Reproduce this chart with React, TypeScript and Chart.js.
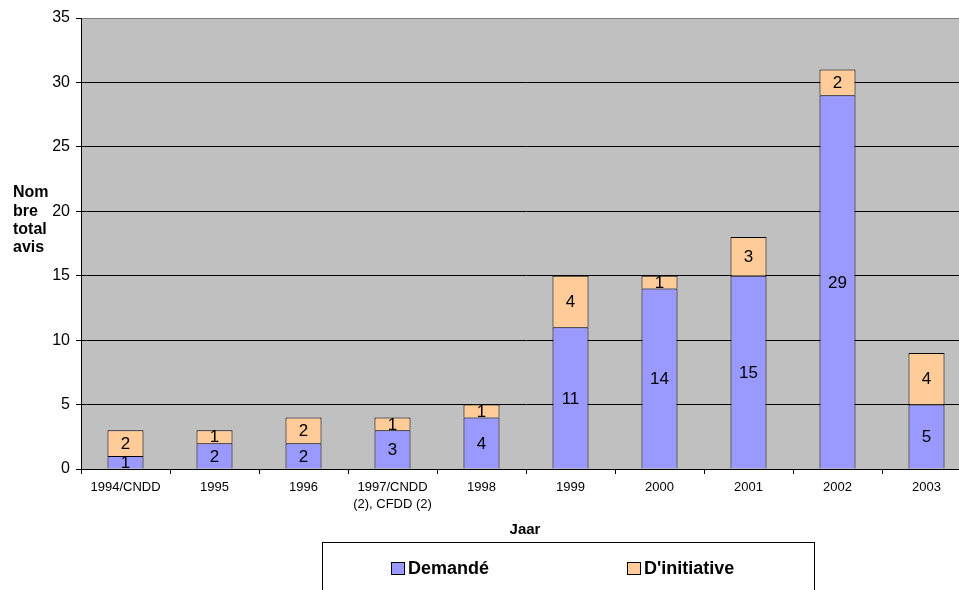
import React, { useEffect, useRef } from "react";
import { Chart, registerables } from "chart.js";

Chart.register(...registerables);

const categories: (string | string[])[] = [
  "1994/CNDD",
  "1995",
  "1996",
  ["1997/CNDD", "(2), CFDD (2)"],
  "1998",
  "1999",
  "2000",
  "2001",
  "2002",
  "2003",
];
const demande = [1, 2, 2, 3, 4, 11, 14, 15, 29, 5];
const initiative = [2, 1, 2, 1, 1, 4, 1, 3, 2, 4];
const seriesNames = ["Demandé", "D'initiative"];
const yTitleLines = ["Nom", "bre", "total", "avis"];
const xTitle = "Jaar";

const FONT = "'Liberation Sans', Arial, sans-serif";

const bgPlugin = {
  id: "plotBg",
  beforeDraw(chart: any) {
    const { ctx, chartArea } = chart;
    ctx.save();
    ctx.fillStyle = "#C0C0C0";
    ctx.fillRect(chartArea.left, chartArea.top, chartArea.right - chartArea.left, chartArea.bottom - chartArea.top);
    ctx.restore();
  },
};

const labelPlugin = {
  id: "valueLabels",
  afterDatasetsDraw(chart: any) {
    const { ctx } = chart;
    ctx.save();
    ctx.font = `17px ${FONT}`;
    ctx.fillStyle = "#000";
    ctx.textAlign = "center";
    ctx.textBaseline = "middle";
    chart.data.datasets.forEach((ds: any, di: number) => {
      const meta = chart.getDatasetMeta(di);
      meta.data.forEach((el: any, i: number) => {
        const v = ds.data[i];
        if (!v) return;
        const y = (el.y + el.base) / 2;
        ctx.fillText(String(v), el.x, y + 1);
      });
    });
    ctx.restore();
  },
};

const extrasPlugin = {
  id: "extras",
  afterDraw(chart: any) {
    const { ctx } = chart;
    ctx.save();
    ctx.fillStyle = "#000";
    ctx.textBaseline = "middle";
    // Y title (horizontal, multiline)
    ctx.font = `bold 16px ${FONT}`;
    ctx.textAlign = "left";
    yTitleLines.forEach((t, i) => {
      ctx.fillText(t, 13, 193 + i * 18.3);
    });
    // X title
    ctx.font = `bold 15px ${FONT}`;
    ctx.textAlign = "center";
    ctx.fillText(xTitle, 525, 530);
    // Legend box
    ctx.strokeStyle = "#000";
    ctx.lineWidth = 1;
    ctx.strokeRect(322.5, 542.5, 492, 60);
    const items = chart.data.datasets;
    const xs = [391, 627];
    ctx.font = `bold 18px ${FONT}`;
    ctx.textAlign = "left";
    items.forEach((ds: any, i: number) => {
      const x = xs[i];
      ctx.fillStyle = ds.backgroundColor;
      ctx.fillRect(x + 0.5, 562.5, 13, 12);
      ctx.strokeStyle = "#000";
      ctx.strokeRect(x + 0.5, 562.5, 13, 12);
      ctx.fillStyle = "#000";
      ctx.fillText(ds.label, x + 17, 569);
    });
    ctx.restore();
  },
};

export default function App() {
  const ref = useRef<HTMLCanvasElement | null>(null);
  useEffect(() => {
    if (!ref.current) return;
    const chart = new Chart(ref.current, {
      type: "bar",
      data: {
        labels: categories,
        datasets: [
          {
            label: seriesNames[0],
            data: demande,
            backgroundColor: "#9999FF",
            borderColor: "#000",
            borderWidth: 1,
            barPercentage: 0.405,
            categoryPercentage: 1,
          },
          {
            label: seriesNames[1],
            data: initiative,
            backgroundColor: "#FFCC99",
            borderColor: "#000",
            borderWidth: 1,
            barPercentage: 0.405,
            categoryPercentage: 1,
          },
        ],
      },
      options: {
        animation: false,
        responsive: false,
        devicePixelRatio: 1,
        layout: { padding: { left: 0, right: 19, top: 18, bottom: 0 } },
        plugins: {
          legend: { display: false },
          tooltip: { enabled: false },
        },
        scales: {
          x: {
            stacked: true,
            grid: {
              offset: true,
              drawOnChartArea: false,
              drawTicks: true,
              tickLength: 5,
              color: "#000",
            },
            border: { color: "#000", width: 1 },
            ticks: {
              color: "#000",
              font: { family: FONT, size: 13, lineHeight: 1.3 },
              padding: 5,
              maxRotation: 0,
              autoSkip: false,
            },
            afterFit(scale: any) {
              scale.height = 121;
            },
          },
          y: {
            stacked: true,
            min: 0,
            max: 35,
            grid: {
              color: (c: any) => (c.tick && c.tick.value === 35 ? "#808080" : "#000"),
              lineWidth: 1,
              tickLength: 5,
              tickColor: "#000",
            },
            border: { color: "#000", width: 1 },
            ticks: {
              stepSize: 5,
              color: "#000",
              font: { family: FONT, size: 16 },
              padding: 6,
            },
            afterFit(scale: any) {
              scale.width = 81;
            },
          },
        },
      },
      plugins: [bgPlugin, labelPlugin, extrasPlugin],
    });
    return () => chart.destroy();
  }, []);
  return (
    <div style={{ position: "fixed", left: 0, top: 0, width: 959, height: 590, overflow: "hidden", background: "#fff" }}>
      <canvas ref={ref} width={990} height={590} style={{ width: 990, height: 590, display: "block" }} />
    </div>
  );
}
